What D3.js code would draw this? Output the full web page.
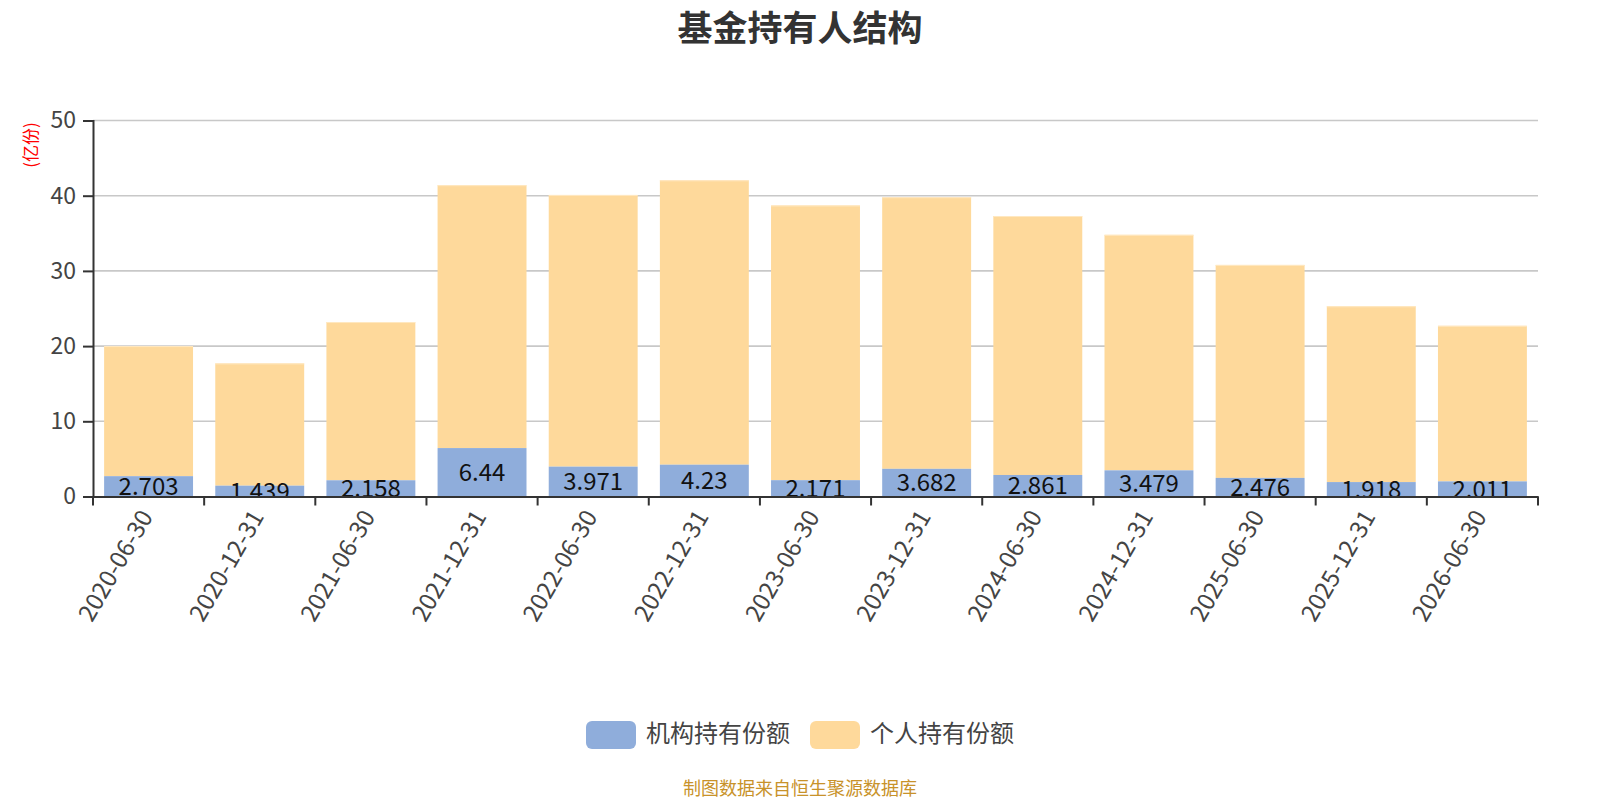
<!DOCTYPE html>
<html><head><meta charset="utf-8">
<script src="https://cdn.jsdelivr.net/npm/d3@7"></script>
<style>body{margin:0;background:#fff}svg{display:block}text{font-family:"Noto Sans CJK SC","Noto Sans",sans-serif}</style>
</head><body>
<svg id="c" width="1600" height="800"></svg>
<script>
const categories = ["2020-06-30","2020-12-31","2021-06-30","2021-12-31","2022-06-30","2022-12-31","2023-06-30","2023-12-31","2024-06-30","2024-12-31","2025-06-30","2025-12-31","2026-06-30"];
const institutional = [2.703,1.439,2.158,6.44,3.971,4.23,2.171,3.682,2.861,3.479,2.476,1.918,2.011];
const individual = [17.30,16.26,21.04,34.96,36.13,37.82,36.53,36.12,34.44,31.32,28.32,23.38,20.69];
const yTicks = [0,10,20,30,40,50];
const seriesNames = ["机构持有份额","个人持有份额"];
const colors = ["#8faddb","#fed99b"];

(function(){
const svg = d3.select("#c");
const pl = 93, pr = 1538, pt = 120.5, pb = 496.5;
const x = d3.scaleBand().domain(categories).range([pl, pr]).paddingInner(0.2).paddingOuter(0.1);
const y = d3.scaleLinear().domain([0,50]).range([pb, pt]);

svg.append("defs").append("clipPath").attr("id","plot")
  .append("rect").attr("x",pl).attr("y",0).attr("width",pr-pl).attr("height",pb);

// title
svg.append("text").attr("x",800).attr("y",41).attr("text-anchor","middle")
  .attr("font-size",35).attr("font-weight","bold").attr("fill","#333").text("基金持有人结构");

// grid
svg.append("g").selectAll("line").data(yTicks.filter(d=>d>0)).join("line")
  .attr("x1",pl).attr("x2",pr).attr("y1",d=>y(d)).attr("y2",d=>y(d))
  .attr("stroke","#c8c8c8").attr("stroke-width",1.6);

// bars
const stack = categories.map((c,i)=>({c, a:institutional[i], b:individual[i]}));
const g = svg.append("g");
g.selectAll("rect.b").data(stack).join("rect").attr("class","b")
  .attr("x",d=>x(d.c)).attr("width",x.bandwidth())
  .attr("y",d=>y(d.a+d.b)).attr("height",d=>y(d.a)-y(d.a+d.b))
  .attr("fill",colors[1]);
g.selectAll("line.bt").data(stack).join("line").attr("class","bt")
  .attr("x1",d=>x(d.c)).attr("x2",d=>x(d.c)+x.bandwidth())
  .attr("y1",d=>y(d.a+d.b)+0.5).attr("y2",d=>y(d.a+d.b)+0.5)
  .attr("stroke","#ffe8c2").attr("stroke-width",1);
g.selectAll("rect.a").data(stack).join("rect").attr("class","a")
  .attr("x",d=>x(d.c)).attr("width",x.bandwidth())
  .attr("y",d=>y(d.a)).attr("height",d=>y(0)-y(d.a))
  .attr("fill",colors[0]);
g.append("g").attr("clip-path","url(#plot)")
  .selectAll("text.lab").data(stack).join("text").attr("class","lab")
  .attr("x",d=>x(d.c)+x.bandwidth()/2).attr("y",d=>(y(d.a)+y(0))/2)
  .attr("dy","0.36em").attr("text-anchor","middle").attr("font-size",24).attr("fill","#111")
  .text(d=>d.a);

// y axis
const ya = svg.append("g").attr("transform",`translate(${pl},0)`)
  .call(d3.axisLeft(y).tickValues(yTicks).tickSize(10).tickPadding(7));
ya.select(".domain").attr("stroke","#333").attr("stroke-width",2);
ya.selectAll(".tick line").attr("stroke","#333").attr("stroke-width",2);
ya.selectAll(".tick text").attr("font-size",23).attr("fill","#444").attr("font-family",'"Noto Sans CJK SC",sans-serif');

// x axis
const xa = svg.append("g").attr("transform",`translate(0,${pb})`)
  .call(d3.axisBottom(x).tickSize(0).tickPadding(0));
xa.select(".domain").attr("stroke","#333").attr("stroke-width",2);
xa.selectAll(".tick text").attr("font-size",24).attr("fill","#444").attr("font-family",'"Noto Sans CJK SC",sans-serif')
  .attr("text-anchor","end").attr("dy",null).attr("y",0)
  .attr("transform","translate(5,20) rotate(-60)");
const bounds = d3.range(categories.length+1).map(i=>pl + i*(pr-pl)/categories.length);
svg.append("g").selectAll("line").data(bounds).join("line")
  .attr("x1",d=>d).attr("x2",d=>d).attr("y1",pb).attr("y2",pb+9)
  .attr("stroke","#333").attr("stroke-width",2);

// y axis name
svg.append("text").attr("transform","translate(37,145) rotate(-90)")
  .attr("text-anchor","middle").attr("font-size",17).attr("fill","#ff0000").text("(亿份)");

// legend
const lg = svg.append("g");
const legendX = [586, 810];
seriesNames.forEach((n,i)=>{
  lg.append("rect").attr("x",legendX[i]).attr("y",721).attr("width",50).attr("height",28)
    .attr("rx",6).attr("fill",colors[i]);
  lg.append("text").attr("x",legendX[i]+60).attr("y",742)
    .attr("font-size",24).attr("fill","#444").text(n);
});

// footer
svg.append("text").attr("x",800).attr("y",795).attr("text-anchor","middle")
  .attr("font-size",18).attr("fill","#c8922a").text("制图数据来自恒生聚源数据库");
})();
</script>
</body></html>
